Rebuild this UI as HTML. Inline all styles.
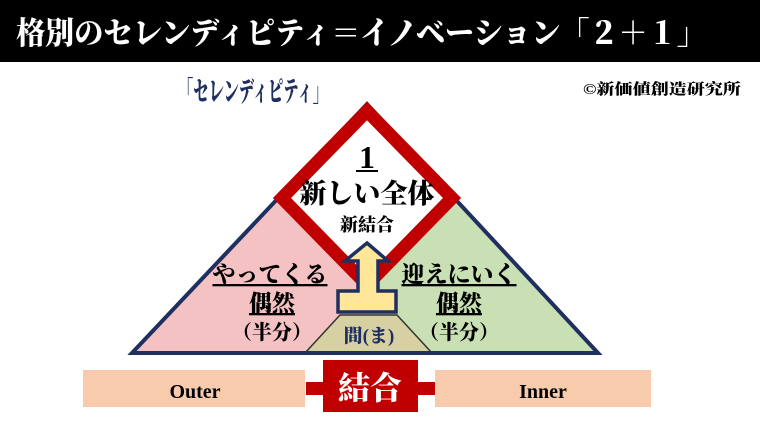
<!DOCTYPE html>
<html><head><meta charset="utf-8"><style>
body{margin:0;width:760px;height:427px;background:#fff;overflow:hidden}
text{font-family:"Liberation Serif","Noto Serif CJK SC","Noto Sans CJK JP",serif;font-weight:900}
</style></head><body>
<svg width="760" height="427" viewBox="0 0 760 427">
<rect x="0" y="0" width="760" height="62" fill="#000"/>
<text x="16" y="44" font-size="31" fill="#fff" textLength="690" lengthAdjust="spacingAndGlyphs">格別のセレンディピティ＝イノベーション「２＋１」</text>
<text x="178" y="101" font-size="28" fill="#1f2f5f" textLength="150" lengthAdjust="spacingAndGlyphs">「セレンディピティ」</text>
<text x="583" y="94" font-size="15" fill="#000" textLength="158" lengthAdjust="spacingAndGlyphs">©新価値創造研究所</text>
<polygon points="132,353 367,104 598,353" fill="#c9e0b4"/>
<polygon points="132,353 367,104 367,353" fill="#f4c2c2"/>
<polygon points="305,353 340,315 397,315 432,353" fill="#d6d0a2" stroke="#333" stroke-width="1.5"/>
<polygon points="132,353 367,104 598,353" fill="none" stroke="#1f2f5f" stroke-width="4"/>
<polygon points="367,111 452,198 367,285 282,198" fill="#fff" stroke="#c00000" stroke-width="13" stroke-linejoin="miter"/>
<polygon points="367,243 388,261 378,261 378,291 396,291 396,312 338,312 338,291 358,291 358,261 345,261" fill="#ffe699" stroke="#1f2f5f" stroke-width="3.5"/>
<text x="367" y="168" font-size="32" text-anchor="middle" fill="#000">1</text>
<line x1="356" y1="171" x2="378" y2="171" stroke="#000" stroke-width="2"/>
<text x="367" y="203" font-size="27" text-anchor="middle" fill="#000">新しい全体</text>
<text x="367" y="231" font-size="18" text-anchor="middle" fill="#000">新結合</text>
<text x="270" y="282" font-size="23" text-anchor="middle" fill="#000" text-decoration="underline">やってくる</text>
<text x="272" y="311" font-size="23" text-anchor="middle" fill="#000" text-decoration="underline">偶然</text>
<text x="272" y="339" font-size="20" text-anchor="middle" fill="#000">（半分）</text>
<text x="459" y="282" font-size="23" text-anchor="middle" fill="#000" text-decoration="underline">迎えにいく</text>
<text x="459" y="311" font-size="23" text-anchor="middle" fill="#000" text-decoration="underline">偶然</text>
<text x="459" y="339" font-size="20" text-anchor="middle" fill="#000">（半分）</text>
<text x="369" y="342" font-size="19" text-anchor="middle" fill="#1f2f5f">間(ま)</text>
<rect x="83" y="370" width="222" height="37" fill="#f8cbad"/>
<rect x="435" y="370" width="216" height="37" fill="#f8cbad"/>
<rect x="306" y="382" width="129" height="13" fill="#c00000"/>
<rect x="323" y="360" width="95" height="52" fill="#c00000"/>
<text x="370" y="399" font-size="32" text-anchor="middle" fill="#fff">結合</text>
<text x="195" y="398" font-size="20" text-anchor="middle" fill="#000">Outer</text>
<text x="543" y="398" font-size="20" text-anchor="middle" fill="#000">Inner</text>
</svg>
</body></html>
